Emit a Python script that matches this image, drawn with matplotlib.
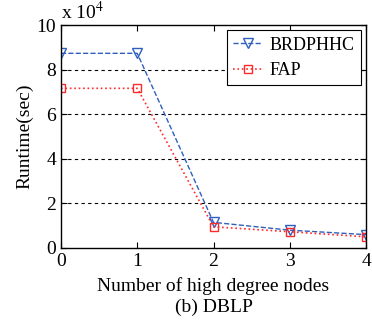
import matplotlib
matplotlib.use("Agg")
import matplotlib.pyplot as plt

x = [0, 1, 2, 3, 4]
brdphhc = [87300, 87300, 11500, 8000, 6000]
fap = [71600, 71600, 9500, 7300, 5000]
yticks = [0, 2, 4, 6, 8, 10]

plt.rcParams['font.family'] = ['Liberation Serif']
plt.rcParams['mathtext.fontset'] = 'stix'

fig = plt.figure(figsize=(3.72, 3.22), dpi=100)
ax = fig.add_axes([61/372, 1-248/322, (366-61)/372, (248-25)/322])

s = 1e4
ax.plot(x, [v/s for v in brdphhc], linestyle='--', color='#2f5fbf', lw=1.0,
        marker='v', markersize=7, markerfacecolor='none', markeredgecolor='#2f5fbf',
        markeredgewidth=1.0, label='BRDPHHC')
ax.plot(x, [v/s for v in fap], linestyle=':', color='#ff2a2a', lw=1.2,
        marker='s', markersize=6, markerfacecolor='none', markeredgecolor='#ff2a2a',
        markeredgewidth=1.0, label='FAP')

ax.set_xlim(0, 4)
ax.set_ylim(0, 10)
ax.set_xticks(x)
ax.set_yticks(yticks)
ax.tick_params(direction='in', top=True, right=True, labelsize=14, length=4)
for yv in [2, 4, 6, 8]:
    ax.axhline(yv, color='black', linestyle=(0, (3, 3)), lw=0.8, zorder=0)
for sp in ax.spines.values():
    sp.set_linewidth(1.0)

ax.text(0.0, 1.01, r'x 10$^4$', transform=ax.transAxes, fontsize=14, va='bottom', ha='left')
ax.set_ylabel('Runtime(sec)', fontsize=14, labelpad=2)
ax.set_xlabel('Number of high degree nodes', fontsize=14, labelpad=5)
fig.text((61+366)/2/372, 1-307/322, '(b) DBLP', fontsize=14, ha='center', va='center')

leg = ax.legend(loc='upper right', fontsize=13, frameon=True, fancybox=False,
                edgecolor='black', framealpha=1, borderpad=0.35, handlelength=1.6,
                handletextpad=0.4, labelspacing=0.45, borderaxespad=0.3)
leg.get_frame().set_linewidth(0.8)

fig.savefig('out.png', dpi=100)
